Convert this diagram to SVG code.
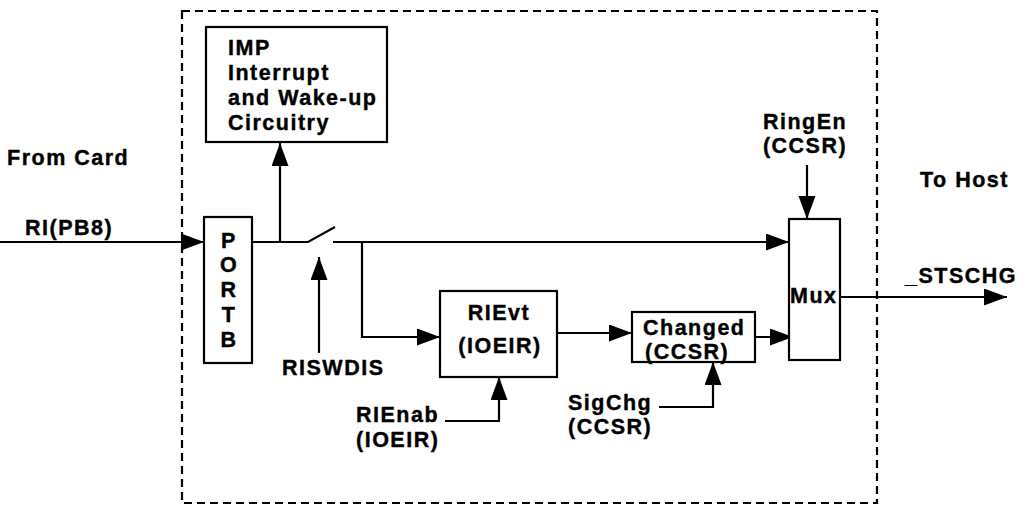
<svg xmlns="http://www.w3.org/2000/svg" width="1028" height="505" viewBox="0 0 1028 505">
<style>
text{font-family:"Liberation Sans",Arial,sans-serif;font-weight:bold;font-size:21.5px;letter-spacing:1.5px;fill:#000;stroke:#000;stroke-width:0.4px}
.box{fill:#fff;stroke:#000;stroke-width:2.2}
.ln{fill:none;stroke:#000;stroke-width:2.2}
.ar{fill:none;stroke:#000;stroke-width:2.2;marker-end:url(#ah)}
.c{text-anchor:middle}
</style>
<defs>
<marker id="ah" markerUnits="userSpaceOnUse" markerWidth="24" markerHeight="18" refX="23" refY="8.5" orient="auto" viewBox="0 0 24 18">
<path d="M0,0 L23,8.5 L0,17 z" fill="#000"/>
</marker>
</defs>
<rect x="182" y="11" width="695" height="492" fill="none" stroke="#000" stroke-width="2.2" stroke-dasharray="8 5"/>
<g id="connectors">
<line class="ar" x1="0" y1="242" x2="204" y2="242"/>
<polyline class="ln" points="252,242 308,242 335,227"/>
<line class="ar" x1="280" y1="242" x2="280" y2="143"/>
<line class="ar" x1="333" y1="242" x2="789" y2="242"/>
<polyline class="ar" points="362,242 362,337 440,337"/>
<line class="ar" x1="319" y1="353" x2="319" y2="257"/>
<line class="ar" x1="557" y1="333" x2="632" y2="333"/>
<line class="ar" x1="755" y1="337" x2="793" y2="337"/>
<line class="ar" x1="807" y1="165" x2="807" y2="219"/>
<line class="ar" x1="840" y1="297" x2="1007" y2="297"/>
<polyline class="ar" points="659,407 713,407 713,362"/>
<polyline class="ar" points="445,421 499,421 499,377"/>
</g>
<g id="imp">
<rect class="box" x="206" y="27" width="181" height="115"/>
<text x="228" y="55">IMP</text>
<text x="228" y="80">Interrupt</text>
<text x="228" y="105">and Wake-up</text>
<text x="228" y="130">Circuitry</text>
</g>
<g id="portb">
<rect class="box" x="204" y="217" width="48" height="146"/>
<text class="c" x="229" y="248">P</text>
<text class="c" x="229" y="272">O</text>
<text class="c" x="229" y="297">R</text>
<text class="c" x="229" y="322">T</text>
<text class="c" x="229" y="347">B</text>
</g>
<g id="rievt">
<rect class="box" x="440" y="291" width="117" height="86"/>
<text class="c" x="499" y="320">RIEvt</text>
<text class="c" x="500" y="353">(IOEIR)</text>
</g>
<g id="changed">
<rect class="box" x="632" y="312" width="123" height="50"/>
<text x="643" y="335">Changed</text>
<text x="645" y="359">(CCSR)</text>
</g>
<g id="mux">
<rect class="box" x="789" y="219" width="51" height="141"/>
<text x="790" y="303">Mux</text>
</g>
<g id="labels">
<text x="7" y="165">From Card</text>
<text x="25" y="235">RI(PB8)</text>
<text x="282" y="375">RISWDIS</text>
<text x="356" y="422">RIEnab</text>
<text x="356" y="447">(IOEIR)</text>
<text x="568" y="410">SigChg</text>
<text x="568" y="434">(CCSR)</text>
<text class="c" x="805" y="129">RingEn</text>
<text class="c" x="805" y="153">(CCSR)</text>
<text x="920" y="187">To Host</text>
<text x="905" y="283">_STSCHG</text>
</g>
</svg>
